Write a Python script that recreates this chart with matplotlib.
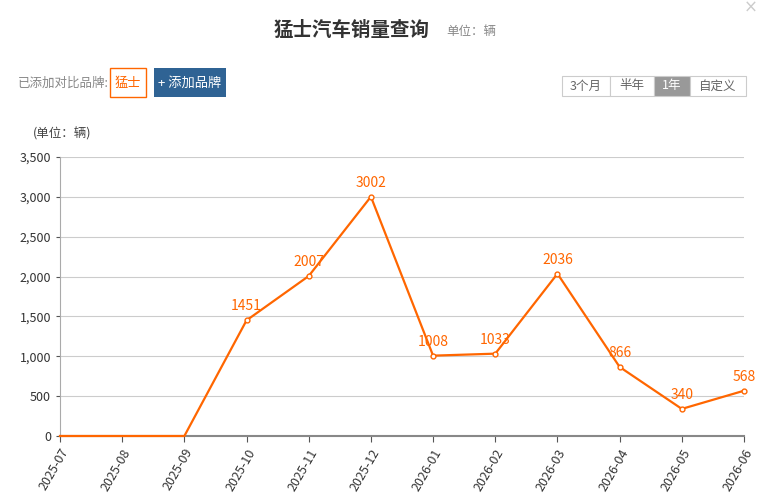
import matplotlib
matplotlib.use("Agg")
import matplotlib.pyplot as plt
from matplotlib.patches import Rectangle
from matplotlib.ticker import FuncFormatter

plt.rcParams['font.family'] = ['Noto Sans CJK SC', 'DejaVu Sans']

months = ['2025-07', '2025-08', '2025-09', '2025-10', '2025-11', '2025-12',
          '2026-01', '2026-02', '2026-03', '2026-04', '2026-05', '2026-06']
sales = [0, 0, 0, 1451, 2007, 3002, 1008, 1033, 2036, 866, 340, 568]

ORANGE = '#ff6600'
W, H = 764, 499

fig = plt.figure(figsize=(W / 100, H / 100), dpi=100)
fig.patch.set_facecolor('white')


def fx(px):
    return px / W


def fy(py):
    return 1 - py / H


ax = fig.add_axes([fx(60), fy(436), fx(744) - fx(60), fy(157) - fy(436)])
x = list(range(len(months)))
ax.plot(x, sales, color=ORANGE, lw=1.6, zorder=3, clip_on=False)
mx = [i for i, v in enumerate(sales) if v > 0]
my = [sales[i] for i in mx]
ax.plot(mx, my, 'o', ms=3.5, mfc='white', mec=ORANGE, mew=1, zorder=4, clip_on=False)
for i, v in zip(mx, my):
    ax.annotate(str(v), (i, v), xytext=(0, 5), textcoords='offset points',
                ha='center', va='bottom', color=ORANGE, fontsize=10)

ax.set_xlim(0, len(months) - 1)
ax.set_ylim(0, 3500)
ax.set_yticks(range(0, 3501, 500))
ax.yaxis.set_major_formatter(FuncFormatter(lambda v, p: f'{int(v):,}'))
ax.set_xticks(x)
ax.set_xticklabels(months, rotation=60, ha='right', rotation_mode='anchor')
ax.grid(axis='y', color='#cccccc', lw=0.8)
ax.set_axisbelow(True)
for s in ['top', 'right']:
    ax.spines[s].set_visible(False)
ax.spines['left'].set_color('#aaaaaa')
ax.spines['bottom'].set_color('#888888')
ax.spines['bottom'].set_linewidth(1.5)
ax.tick_params(axis='both', colors='#555555', labelsize=9, length=4)
ax.tick_params(axis='y', length=3)
for lab in ax.get_yticklabels() + ax.get_xticklabels():
    lab.set_color('#333333')

# header texts
fig.text(fx(352), fy(30), '猛士汽车销量查询', ha='center', va='center',
         fontsize=14, color='#333333', fontweight='bold')
fig.text(fx(446), fy(32), '单位：辆', ha='left', va='center',
         fontsize=9, color='#888888')
fig.text(fx(33), fy(134), '(单位：辆)', ha='left', va='center',
         fontsize=9, color='#444444')

# brand controls
fig.text(fx(18), fy(83), '已添加对比品牌:', ha='left', va='center',
         fontsize=9, color='#888888')
fig.patches.append(Rectangle((fx(110), fy(97)), fx(146) - fx(110), fy(68) - fy(97),
                             transform=fig.transFigure, fill=False,
                             edgecolor=ORANGE, lw=1))
fig.text(fx(128), fy(83), '猛士', ha='center', va='center',
         fontsize=9.5, color=ORANGE)
fig.patches.append(Rectangle((fx(154), fy(97)), fx(226) - fx(154), fy(68) - fy(97),
                             transform=fig.transFigure, facecolor='#2f6394',
                             edgecolor='none'))
fig.text(fx(190), fy(83), '+ 添加品牌', ha='center', va='center',
         fontsize=9.5, color='white')

# period buttons
buttons = [('3个月', 562, 610), ('半年', 610, 654), ('1年', 654, 690), ('自定义', 690, 746)]
for label, x0, x1 in buttons:
    active = label == '1年'
    fig.patches.append(Rectangle((fx(x0), fy(96)), fx(x1) - fx(x0), fy(76) - fy(96),
                                 transform=fig.transFigure,
                                 facecolor='#999999' if active else 'white',
                                 edgecolor='#cccccc', lw=0.8))
    fig.text(fx((x0 + x1) / 2), fy(86), label, ha='center', va='center',
             fontsize=9, color='white' if active else '#666666')

# close mark
fig.text(fx(751), fy(8), '×', ha='center', va='center', fontsize=12,
         color='#cccccc', family='DejaVu Sans')

fig.savefig('out.png', dpi=100)
